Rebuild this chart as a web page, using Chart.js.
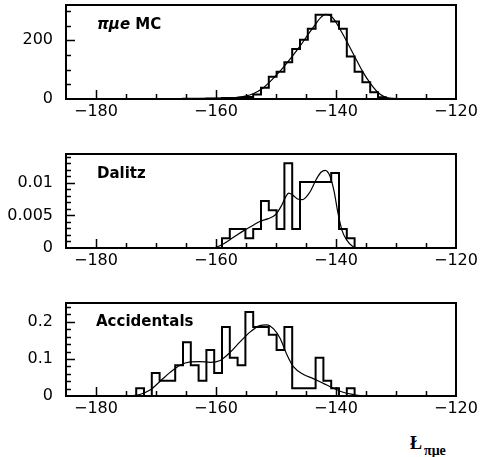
<!DOCTYPE html>
<html>
<head>
<meta charset="utf-8">
<script src="https://cdn.jsdelivr.net/npm/chart.js@4.4.0/dist/chart.umd.min.js"></script>
<style>
    html, body { margin: 0; padding: 0; background: #fff; }
    #wrap { position: relative; width: 480px; height: 457px; overflow: hidden; background: #fff; }
    .panel { position: absolute; left: 0; width: 480px; }
    .lbl { position: absolute; font: bold 15px "DejaVu Sans", sans-serif; line-height: 15px; color: #000; white-space: nowrap; }
    .xt { position: absolute; font-family: "Liberation Serif", serif; font-weight: bold; color: #000; white-space: nowrap; }
</style>
</head>
<body>
<div id="wrap">
    <div class="panel" style="top:0;height:129px"><canvas id="mcChart"></canvas></div>
    <div class="panel" style="top:140px;height:138px"><canvas id="dalitzChart"></canvas></div>
    <div class="panel" style="top:290px;height:136px"><canvas id="accChart"></canvas></div>
    <div class="lbl" style="left:97px;top:17px"><i>&pi;&mu;e</i> MC</div>
    <div class="lbl" style="left:97px;top:166px">Dalitz</div>
    <div class="lbl" style="left:96px;top:314px">Accidentals</div>
    <div class="xt" style="left:410px;top:434px;font-size:18px;line-height:18px">Ł</div>
    <div class="xt" style="left:424px;top:445px;font-size:14px;line-height:12px">&pi;&mu;e</div>
</div>
<script>
// binning of the histograms (common to the three panels)
const binLow = -185;
const binWidth = 1.3;
const xTicks = [-180, -160, -140, -120];

// pi mu e MC
const mcFirstBin = 14;
const mcValues = [0, 1, 1, 1, 2, 2, 3, 3, 4, 7, 15, 38, 76, 93, 125, 170, 202, 239, 287, 287, 264, 239, 145, 93, 57, 23, 6, 1, 0];
const mcCurve = [[-168, 0], [-163, 1], [-160, 2], [-157.7, 3], [-156.3, 6], [-155.1, 10], [-153.8, 18], [-152.5, 32],
    [-151.2, 55], [-149.9, 82], [-148.6, 112], [-147.3, 145], [-146, 180], [-144.7, 218], [-143.5, 252], [-142.6, 276],
    [-141.8, 288], [-141, 284], [-140.2, 268], [-139.4, 240], [-138.2, 196], [-136.9, 145], [-135.6, 95], [-134.3, 54],
    [-133, 22], [-132, 8], [-131, 2], [-129, 0]];
const mcYTicks = [0, 200];

// Dalitz
const dalitzFirstBin = 19;
const dalitzValues = [0, 0.0015, 0.0029, 0.0029, 0.0015, 0.0029, 0.0072, 0.0058, 0.0029, 0.0130, 0.0029,
    0.0101, 0.0101, 0.0101, 0.0101, 0.0115, 0.0029, 0.0015, 0];
const dalitzCurve = [[-160.3, 0], [-159, 0.0005], [-157.8, 0.0012], [-156.5, 0.0020], [-155.3, 0.0027], [-153.8, 0.0035],
    [-152.6, 0.0041], [-151.3, 0.0045], [-150.1, 0.0051], [-149.2, 0.0063], [-148.4, 0.0078], [-147.9, 0.0084],
    [-147.2, 0.0081], [-146.4, 0.0075], [-145.6, 0.0074], [-144.4, 0.0085], [-143.3, 0.0105], [-142.5, 0.0116],
    [-141.8, 0.0119], [-141.0, 0.0110], [-140.3, 0.0086], [-139.7, 0.0055], [-139.0, 0.0027], [-138.2, 0.0012],
    [-137.3, 0.0003], [-136.5, 0]];
const dalitzYTicks = [0, 0.005, 0.01];

// Accidentals
const accFirstBin = 8;
const accValues = [0, 0.021, 0, 0.062, 0.041, 0.041, 0.083, 0.145, 0.083, 0.041, 0.124, 0.062, 0.186, 0.103, 0.083,
    0.227, 0.186, 0.186, 0.165, 0.124, 0.186, 0.021, 0.021, 0.021, 0.103, 0.041, 0.021, 0, 0.021, 0];
const accCurve = [[-175.5, 0], [-174, 0.001], [-172.7, 0.004], [-171, 0.016], [-169.3, 0.040], [-167.7, 0.063],
    [-166, 0.083], [-164.3, 0.092], [-162.7, 0.093], [-161, 0.091], [-159.3, 0.096], [-157.7, 0.117], [-156, 0.146],
    [-154.3, 0.173], [-152.7, 0.190], [-151.6, 0.192], [-150.4, 0.181], [-149.3, 0.155], [-148.2, 0.112],
    [-147.1, 0.079], [-145.4, 0.058], [-143.8, 0.047], [-142.1, 0.034], [-140.4, 0.021], [-138.8, 0.010],
    [-137.1, 0.004], [-135.5, 0]];
const accYTicks = [0, 0.1, 0.2];

const tickFont = { family: 'DejaVu Sans', size: 16 };

// histogram outline: one point per bin lower edge, closed at the last upper edge
function puntosHist(firstBin, values) {
    const pts = [];
    values.forEach((v, i) => pts.push({ x: binLow + (firstBin + i) * binWidth, y: v }));
    pts.push({ x: binLow + (firstBin + values.length) * binWidth, y: 0 });
    return pts;
}

// frame and inward ticks (PAW style)
const marcoPlugin = {
    id: 'marco',
    afterDatasetsDraw(chart, args, o) {
        const { ctx, chartArea: a, scales: { x, y } } = chart;
        ctx.save();
        ctx.strokeStyle = '#000';
        ctx.lineWidth = 1.5;
        ctx.beginPath();
        for (let v = x.min + o.xMinor; v < x.max - 0.01; v += o.xMinor) {
            const px = Math.round(x.getPixelForValue(v)) + 0.5;
            const major = xTicks.some(t => Math.abs(t - v) < 0.01);
            ctx.moveTo(px, a.bottom);
            ctx.lineTo(px, a.bottom - (major ? 9 : 5));
        }
        for (let v = o.yMinor; v < y.max - o.yMinor * 0.01; v += o.yMinor) {
            const py = Math.round(y.getPixelForValue(v)) + 0.5;
            const major = o.yTicks.some(t => Math.abs(t - v) < o.yMinor * 0.01);
            ctx.moveTo(a.left, py);
            ctx.lineTo(a.left + (major ? 9 : 5), py);
        }
        ctx.stroke();
        ctx.lineWidth = 2;
        ctx.strokeRect(a.left, a.top, a.right - a.left, a.bottom - a.top);
        ctx.restore();
    }
};

function sinPadding(s) {
    s.paddingTop = 0;
    s.paddingBottom = 0;
    s.paddingLeft = 0;
    s.paddingRight = 0;
}

function crearPanel(id, cfg) {
    const ctx = document.getElementById(id).getContext('2d');
    return new Chart(ctx, {
        type: 'line',
        data: {
            datasets: [{
                data: puntosHist(cfg.firstBin, cfg.values),
                borderColor: '#000',
                borderWidth: 2,
                stepped: 'before',
                pointRadius: 0,
                fill: false
            }, {
                data: cfg.curve.map(p => ({ x: p[0], y: p[1] })),
                borderColor: '#000',
                borderWidth: 1.2,
                cubicInterpolationMode: 'monotone',
                pointRadius: 0,
                fill: false
            }]
        },
        options: {
            responsive: true,
            maintainAspectRatio: false,
            animation: false,
            layout: { padding: { top: cfg.padTop, right: 24, left: 0, bottom: 0 } },
            plugins: {
                legend: { display: false },
                tooltip: { enabled: false },
                marco: { xMinor: 5, yMinor: cfg.yMinor, yTicks: cfg.yTicks }
            },
            scales: {
                x: {
                    type: 'linear',
                    min: -185,
                    max: -120,
                    grid: { display: false, drawTicks: false },
                    border: { display: false },
                    afterBuildTicks: s => { s.ticks = xTicks.map(v => ({ value: v })); },
                    afterFit: s => { s.height = 30; sinPadding(s); },
                    ticks: {
                        font: tickFont,
                        color: '#000',
                        padding: 3,
                        maxRotation: 0,
                        autoSkip: false,
                        callback: v => String(v).replace('-', '\u2212')
                    }
                },
                y: {
                    type: 'linear',
                    min: 0,
                    max: cfg.yMax,
                    grid: { display: false, drawTicks: false },
                    border: { display: false },
                    afterBuildTicks: s => { s.ticks = cfg.yTicks.map(v => ({ value: v })); },
                    afterFit: s => { s.width = 66; sinPadding(s); },
                    ticks: {
                        font: tickFont,
                        color: '#000',
                        padding: 13,
                        callback: v => String(v)
                    }
                }
            }
        },
        plugins: [marcoPlugin]
    });
}

crearPanel('mcChart', { firstBin: mcFirstBin, values: mcValues, curve: mcCurve, yMax: 320, yTicks: mcYTicks, yMinor: 50, padTop: 5 });
crearPanel('dalitzChart', { firstBin: dalitzFirstBin, values: dalitzValues, curve: dalitzCurve, yMax: 0.0144, yTicks: dalitzYTicks, yMinor: 0.001, padTop: 14 });
crearPanel('accChart', { firstBin: accFirstBin, values: accValues, curve: accCurve, yMax: 0.251, yTicks: accYTicks, yMinor: 0.02, padTop: 13 });
</script>
</body>
</html>
